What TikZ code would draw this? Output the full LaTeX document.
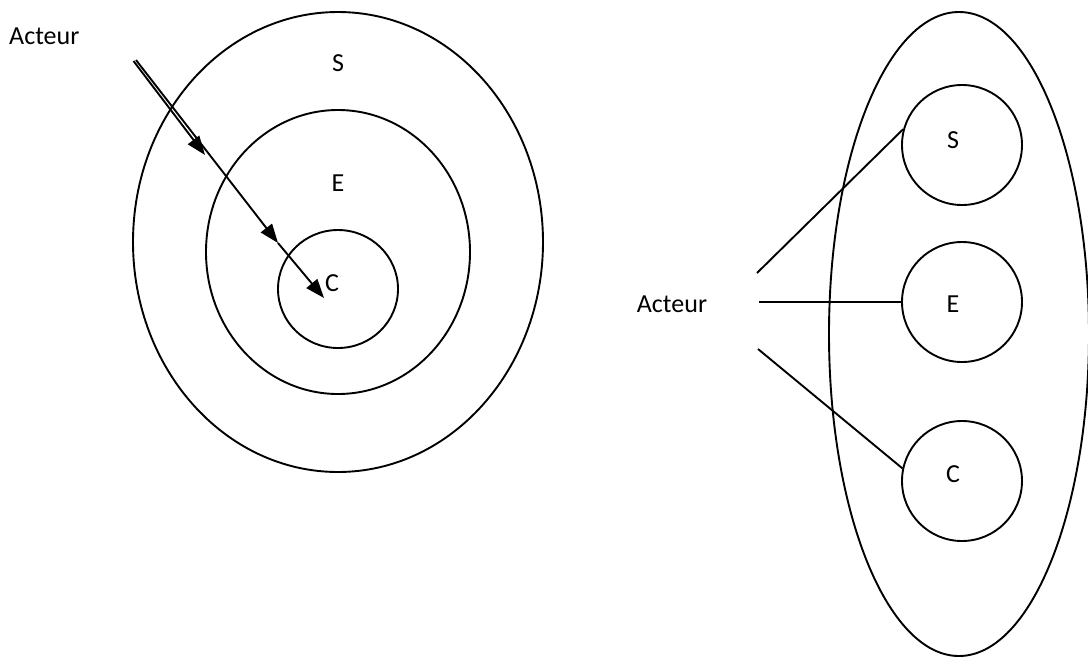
\documentclass[tikz,border=0pt]{standalone}
\usepackage{fontspec}
\setmainfont{Carlito}
\usetikzlibrary{shapes.geometric,arrows.meta}
\begin{document}
\begin{tikzpicture}[x=1pt,y=-1pt,
  ring/.style={draw,ellipse,line width=1.9pt,inner sep=0pt},
  lbl/.style={font=\fontsize{26}{30}\selectfont,inner sep=0pt},
  link/.style={line width=1.9pt},
  arr/.style={line width=1.9pt,-{Triangle[length=19pt,width=14pt]}}]
\useasboundingbox (0,0) rectangle (1088,657);
% left diagram
\node[ring,minimum width=410pt,minimum height=460pt] (outer) at (338,242) {};
\node[ring,minimum width=264pt,minimum height=284pt] (middle) at (338,252) {};
\node[ring,minimum width=120pt,minimum height=118pt] (inner) at (338,289) {};
\node[lbl] (ls) at (338,63) {S};
\node[lbl] (le) at (338,183) {E};
\node[lbl] (lc) at (332,283) {C};
\node[lbl,anchor=west] (acteur1) at (9,36) {Acteur};
\coordinate (st1) at (133.5,61);
\coordinate (st2) at (136,60);
\coordinate (a1) at (205,155);
\coordinate (a2) at (278,243);
\coordinate (a3) at (324,298);
\draw[arr] (st1) -- (a1);
\draw[arr] (st2) -- (a2);
\draw[arr] (a2) -- (a3);
% right diagram
\node[ring,minimum width=260pt,minimum height=644pt] (big) at (959,334) {};
\node[ring,minimum width=120pt,minimum height=120pt] (s) at (962,145) {};
\node[ring,minimum width=120pt,minimum height=120pt] (e) at (962,302) {};
\node[ring,minimum width=120pt,minimum height=120pt] (c) at (962,481) {};
\node[lbl] (rs) at (953,140) {S};
\node[lbl] (re) at (953,304) {E};
\node[lbl] (rc) at (953,474) {C};
\node[lbl] (acteur2) at (672,304) {Acteur};
\coordinate (p1) at (757,273);
\coordinate (p2) at (759,302);
\coordinate (p3) at (758,349);
\draw[link] (p1) -- (s.165);
\draw[link] (p2) -- (e.west);
\draw[link] (p3) -- (c.168);
\end{tikzpicture}
\end{document}
